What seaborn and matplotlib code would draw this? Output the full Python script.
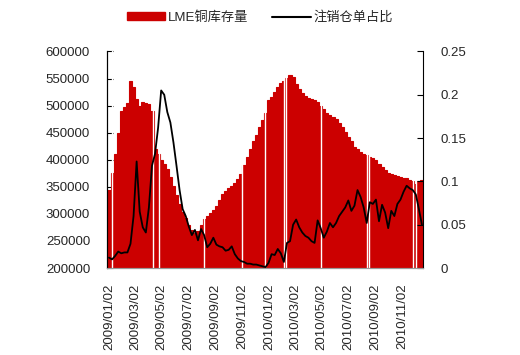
import numpy as np
import pandas as pd
import matplotlib
matplotlib.use('Agg')
import matplotlib.pyplot as plt
import matplotlib.dates as mdates
from matplotlib.patches import Patch
from matplotlib.lines import Line2D
import seaborn as sns

# weekly readings, first week 2009/01/02
start_date = '2009-01-02'
n_weeks = 103

# LME copper stocks, thousand tonnes
stock_k = [345, 375, 410, 450, 490, 497, 505, 545, 535, 512,
           500, 507, 505, 503, 490, 420, 410, 400, 392, 382,
           368, 352, 335, 318, 304, 292, 280, 270, 265, 268,
           280, 290, 296, 302, 308, 315, 326, 337, 343, 347,
           352, 357, 365, 374, 390, 405, 420, 434, 446, 460,
           473, 487, 510, 515, 525, 535, 541, 545, 551, 556,
           553, 540, 531, 523, 518, 514, 512, 510, 506, 500,
           493, 487, 482, 479, 475, 468, 461, 452, 442, 434,
           424, 419, 415, 411, 408, 406, 404, 399, 392, 387,
           381, 376, 373, 371, 370, 369, 367, 366, 363, 360,
           356, 360, 362]

# cancelled warrants share
cancel_ratio = [0.012, 0.010, 0.014, 0.019, 0.017, 0.018, 0.018, 0.028, 0.060, 0.123,
                0.065, 0.047, 0.041, 0.070, 0.118, 0.132, 0.162, 0.205, 0.200, 0.180,
                0.168, 0.145, 0.118, 0.090, 0.068, 0.060, 0.048, 0.038, 0.044, 0.032,
                0.045, 0.038, 0.024, 0.028, 0.035, 0.027, 0.025, 0.024, 0.020, 0.021,
                0.025, 0.016, 0.011, 0.008, 0.007, 0.005, 0.005, 0.004, 0.004, 0.003,
                0.002, 0.001, 0.006, 0.016, 0.015, 0.022, 0.017, 0.007, 0.029, 0.031,
                0.050, 0.056, 0.047, 0.041, 0.037, 0.035, 0.031, 0.029, 0.055, 0.046,
                0.035, 0.042, 0.052, 0.047, 0.052, 0.060, 0.065, 0.070, 0.078, 0.066,
                0.072, 0.090, 0.082, 0.070, 0.052, 0.076, 0.074, 0.079, 0.054, 0.073,
                0.064, 0.046, 0.066, 0.060, 0.074, 0.079, 0.088, 0.095, 0.092, 0.090,
                0.085, 0.068, 0.050]

# days with no stock figure (white gaps in the bars)
gap_days = ['2009-01-08', '2009-04-12', '2009-04-25', '2009-08-07', '2009-11-01',
            '2009-12-25', '2010-02-05', '2010-02-10', '2010-04-30', '2010-08-14',
            '2010-08-19', '2010-11-26', '2010-12-03']

tick_days = ['2009-01-02', '2009-03-02', '2009-05-02', '2009-07-02', '2009-09-02',
             '2009-11-02', '2010-01-02', '2010-03-02', '2010-05-02', '2010-07-02',
             '2010-09-02', '2010-11-02']

df = pd.DataFrame({
    'date': pd.date_range(start_date, periods=n_weeks, freq='7D'),
    'stock': np.array(stock_k) * 1000,
    'ratio': cancel_ratio,
})

sns.set_style('white')
plt.rcParams['font.family'] = ['Liberation Sans', 'Noto Sans CJK SC', 'DejaVu Sans']
plt.rcParams['ytick.direction'] = 'in'
plt.rcParams['xtick.direction'] = 'in'
plt.rcParams['ytick.major.pad'] = 12.5
plt.rcParams['xtick.major.pad'] = 11
plt.rcParams['ytick.major.size'] = 4
plt.rcParams['xtick.major.size'] = 3
plt.rcParams['xtick.labelsize'] = 9.5
plt.rcParams['ytick.labelsize'] = 9.5

red = '#CC0000'
fig = plt.figure(figsize=(5.2, 3.55), dpi=100)
ax = fig.add_axes([0.2067, 0.245, 0.6077, 0.610])

ax.bar(df['date'], df['stock'], width=7, color=red, edgecolor=red, linewidth=0.8)
for d in gap_days:
    ax.axvline(pd.Timestamp(d), color='white', lw=1.0)

ax.set_ylim(200000, 600000)
ax.set_yticks(range(200000, 600001, 50000))
ax.set_xlim(df['date'].iloc[0] - pd.Timedelta(days=3.5),
            df['date'].iloc[-1] + pd.Timedelta(days=3.5))
ax.set_xticks(pd.to_datetime(tick_days))
ax.xaxis.set_major_formatter(mdates.DateFormatter('%Y/%m/%d'))
ax.tick_params(axis='x', rotation=90, color='#BBBBBB')
ax.tick_params(axis='y', color='black', left=True)
ax.set_xlabel('')
ax.set_ylabel('')

ax2 = ax.twinx()
sns.lineplot(data=df, x='date', y='ratio', ax=ax2, color='black', lw=1.3)
ax2.set_ylim(0, 0.25)
ax2.set_yticks([0, 0.05, 0.1, 0.15, 0.2, 0.25])
ax2.set_yticklabels(['0', '0.05', '0.1', '0.15', '0.2', '0.25'])
ax2.tick_params(axis='y', color='black', right=True)
ax2.set_ylabel('')
ax2.set_xlabel('')

for a in (ax, ax2):
    a.spines['top'].set_visible(False)
    a.spines['left'].set_color('black')
    a.spines['right'].set_color('black')
    a.spines['bottom'].set_color('#999999')
ax.spines['right'].set_visible(False)

handles = [Patch(facecolor=red, edgecolor=red),
           Line2D([0], [0], color='black', lw=1.5)]
fig.legend(handles, ['LME铜库存量', '注销仓单占比'], loc='center',
           bbox_to_anchor=(0.5, 0.95), ncol=2, frameon=False,
           fontsize=9.5, handlelength=2.9, handleheight=0.55,
           handletextpad=0.25, columnspacing=1.8)

fig.savefig('out.png', dpi=100)
